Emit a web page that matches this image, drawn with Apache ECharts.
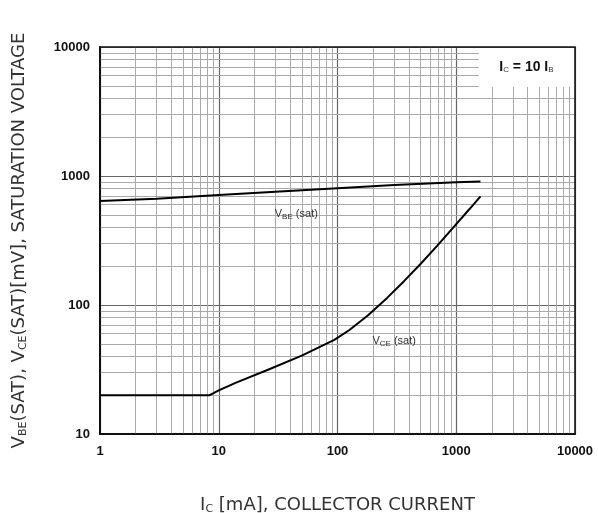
<!DOCTYPE html>
<html>
<head>
<meta charset="utf-8">
<script src="https://cdn.jsdelivr.net/npm/echarts@6/dist/echarts.min.js"></script>
<style>
  html, body { margin: 0; padding: 0; background: #fff; }
  #chart { width: 598px; height: 513px; }
</style>
</head>
<body>
<div id="chart"></div>
<script>
// collector current, mA
const xMinor = [2, 3, 4, 5, 6, 7, 8, 9, 20, 30, 40, 50, 60, 70, 80, 90,
  200, 300, 400, 500, 600, 700, 800, 900, 2000, 3000, 4000, 5000, 6000, 7000, 8000, 9000]
const yMinor = [20, 30, 40, 50, 60, 70, 80, 90, 200, 300, 400, 500, 600, 700, 800, 900,
  2000, 3000, 4000, 5000, 6000, 7000, 8000, 9000]

// [Ic mA, mV]
const vbeSat = [[1, 640], [3, 665], [10, 712], [30, 756], [100, 805], [300, 851], [1000, 895], [1600, 906]]
const vceSat = [[1, 20], [8.4, 20], [10, 21.8], [14, 25], [26, 31.5], [50, 40.5], [94, 53.6], [126, 64],
  [180, 83], [263, 114], [363, 153], [500, 208], [690, 287], [950, 402], [1310, 562], [1600, 695]]

// note box corner (Ic, mV)
const boxCorner = [1550, 4900]

const font = 'Liberation Sans'
const sub = { fontSize: 8, fontFamily: font, color: '#333', verticalAlign: 'bottom', padding: [6, 0, 0, 0] }
const titleText = { fontSize: 18, fontFamily: 'DejaVu Sans', color: '#333' }
const titleSub = { fontSize: 11, fontFamily: 'DejaVu Sans', color: '#333', verticalAlign: 'bottom', padding: [8, 0, 0, 0] }

function minorLines() {
  const lines = []
  xMinor.forEach(v => {
    const top = v > boxCorner[0] ? boxCorner[1] : 10000
    lines.push([{ coord: [v, 10] }, { coord: [v, top] }])
  })
  yMinor.forEach(v => {
    const right = v > boxCorner[1] ? boxCorner[0] : 10000
    lines.push([{ coord: [1, v] }, { coord: [right, v] }])
  })
  return lines
}

const chart = echarts.init(document.getElementById('chart'))

chart.setOption({
  animation: false,
  grid: {
    left: 100, top: 47, right: 23, bottom: 79, outerBoundsMode: 'none',
    show: true, borderColor: '#111', borderWidth: 1.5, z: 10,
  },
  xAxis: {
    type: 'log', logBase: 10, min: 1, max: 10000,
    name: '{a|I}{s|C}{a| [mA], COLLECTOR CURRENT}',
    nameLocation: 'middle', nameGap: 62,
    nameTextStyle: { rich: { a: titleText, s: titleSub } },
    axisLine: { lineStyle: { color: '#111', width: 2 } },
    axisTick: { show: false },
    axisLabel: { margin: 11, fontSize: 13, fontWeight: 'bold', fontFamily: font, color: '#111', formatter: v => String(v) },
    splitLine: { show: true, lineStyle: { color: '#666', width: 1.2 } },
  },
  yAxis: {
    type: 'log', logBase: 10, min: 10, max: 10000,
    name: '{a|V}{s|BE}{a|(SAT), V}{s|CE}{a|(SAT)[mV], SATURATION VOLTAGE}',
    nameLocation: 'middle', nameGap: 71,
    nameTextStyle: { rich: { a: titleText, s: titleSub } },
    axisLine: { lineStyle: { color: '#111', width: 2 } },
    axisTick: { show: false },
    axisLabel: { margin: 10, fontSize: 13, fontWeight: 'bold', fontFamily: font, color: '#111', formatter: v => String(v) },
    splitLine: { show: true, lineStyle: { color: '#666', width: 1.2 } },
  },
  series: [
    {
      // minor grid + note text
      type: 'line', data: [], silent: true, z: 1,
      markLine: {
        silent: true, symbol: 'none', animation: false,
        label: { show: false },
        lineStyle: { color: '#aaa', width: 1, type: 'solid' },
        data: minorLines(),
      },
      markPoint: {
        symbol: 'rect', symbolSize: 1, silent: true, itemStyle: { color: 'transparent' },
        label: {
          show: true, position: 'inside',
          formatter: '{a|I}{s|C}{a| = 10 I}{s|B}',
          rich: { a: { fontSize: 14, fontFamily: font, fontWeight: 'bold', color: '#111' }, s: sub },
        },
        data: [{ coord: [3900, 7000] }],
      },
    },
    {
      name: 'VBE(sat)', type: 'line', data: vbeSat, z: 5,
      showSymbol: false, lineStyle: { color: '#000', width: 2 },
      markPoint: {
        symbol: 'rect', symbolSize: 1, silent: true, itemStyle: { color: 'transparent' },
        label: {
          show: true, position: 'inside', formatter: '{a|V}{s|BE}{a| (sat)}',
          rich: { a: { fontSize: 11, fontFamily: font, color: '#333' }, s: sub },
        },
        data: [{ coord: [45, 505] }],
      },
    },
    {
      name: 'VCE(sat)', type: 'line', data: vceSat, z: 5,
      showSymbol: false, lineStyle: { color: '#000', width: 2 },
      markPoint: {
        symbol: 'rect', symbolSize: 1, silent: true, itemStyle: { color: 'transparent' },
        label: {
          show: true, position: 'inside', formatter: '{a|V}{s|CE}{a| (sat)}',
          rich: { a: { fontSize: 11, fontFamily: font, color: '#333' }, s: sub },
        },
        data: [{ coord: [300, 53] }],
      },
    },
  ],
})
</script>
</body>
</html>
